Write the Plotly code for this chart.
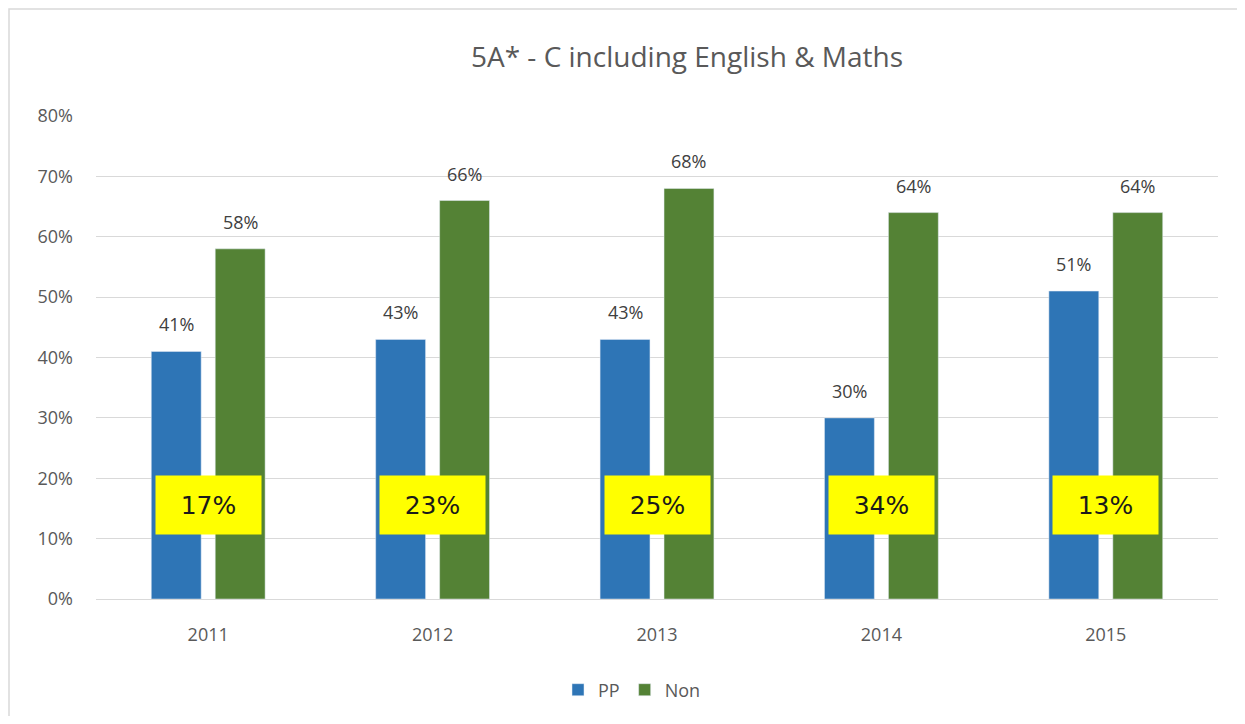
import plotly.graph_objects as go

years = ["2011", "2012", "2013", "2014", "2015"]
pp = [0.41, 0.43, 0.43, 0.30, 0.51]
non = [0.58, 0.66, 0.68, 0.64, 0.64]
gap_labels = ["17%", "23%", "25%", "34%", "13%"]
gap_y = 0.155

BLUE = "#2E75B6"
GREEN = "#548235"
FONT = "Open Sans"

OFF = 8  # page body margin
W, H = 1245 - 2 * OFF, 724 - 2 * OFF
L = 96 - OFF
T = 116 - OFF
R = W - (1218 - OFF)
B = H - (599 - OFF)
pw, ph = W - L - R, H - T - B

fig = go.Figure()
fig.add_trace(go.Bar(name="PP", x=years, y=pp, marker_color=BLUE,
                     offsetgroup="pp"))
fig.add_trace(go.Bar(name="Non", x=years, y=non, marker_color=GREEN,
                     offsetgroup="non"))

annotations = []
slot = (1 - 0.43) / 2
for i, yr in enumerate(years):
    for vals, k in ((pp, -1), (non, 1)):
        annotations.append(dict(
            x=i + k * slot / 2, y=vals[i], xref="x", yref="y",
            text=f"{round(vals[i]*100)}%", showarrow=False,
            yanchor="bottom", yshift=13,
            font=dict(family=FONT, size=18, color="#404040")))
    annotations.append(dict(
        x=i, y=gap_y, xref="x", yref="y", text=gap_labels[i],
        showarrow=False, bgcolor="#FFFF00", width=103, height=56,
        font=dict(family="DejaVu Sans", size=25, color="#1a1a1a")))

fig.update_layout(
    width=W, height=H,
    margin=dict(l=L, r=R, t=T, b=B, autoexpand=False),
    paper_bgcolor="white", plot_bgcolor="white",
    barmode="group", bargap=0.43, bargroupgap=0.22,
    title=dict(text="5A* - C including English & Maths",
               xref="container", x=(687 - OFF) / W, xanchor="center",
               y=1 - (57 - OFF) / H, yanchor="middle",
               font=dict(family=FONT, size=28, color="#595959")),
    font=dict(family=FONT, size=18, color="#595959"),
    xaxis=dict(type="category", range=[-0.5, 4.5], showgrid=False,
               showline=False, ticks="", ticklabelstandoff=23,
               automargin=False,
               tickfont=dict(size=18, color="#595959")),
    yaxis=dict(range=[0, 0.8], dtick=0.1, tickformat=".0%",
               gridcolor="#D9D9D9", gridwidth=1, zeroline=True,
               zerolinecolor="#D9D9D9", zerolinewidth=1,
               ticklabelstandoff=22, automargin=False,
               tickfont=dict(size=18, color="#595959")),
    legend=dict(orientation="h", x=0.5 - 25 / pw, xanchor="center",
                y=(599 - 690) / ph, yanchor="middle",
                font=dict(family=FONT, size=18, color="#595959"),
                itemwidth=30, traceorder="normal"),
    annotations=annotations,
    shapes=[dict(type="rect", xref="paper", yref="paper",
                 x0=(9 - 96) / pw, x1=(1243 - 96) / pw,
                 y0=(599 - 740) / ph, y1=(599 - 9) / ph,
                 line=dict(color="#D9D9D9", width=1.5), layer="below")],
)

fig.write_html("out.html")
